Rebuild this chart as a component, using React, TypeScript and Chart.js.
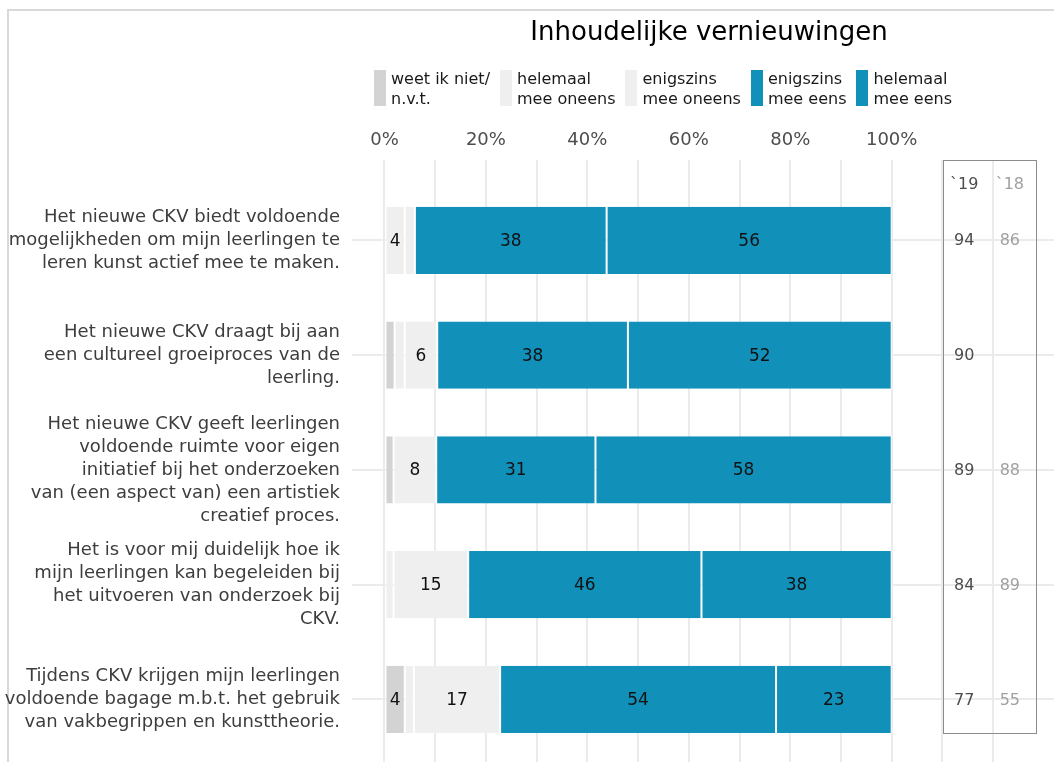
import React, { useEffect, useRef } from 'react';
import { Chart, registerables } from 'chart.js';

Chart.register(...registerables);

// ---------- data ----------
const title = 'Inhoudelijke vernieuwingen';

const statements: string[][] = [
  ['Het nieuwe CKV biedt voldoende', 'mogelijkheden om mijn leerlingen te', 'leren kunst actief mee te maken.'],
  ['Het nieuwe CKV draagt bij aan', 'een cultureel groeiproces van de', 'leerling.'],
  ['Het nieuwe CKV geeft leerlingen', 'voldoende ruimte voor eigen', 'initiatief bij het onderzoeken', 'van (een aspect van) een artistiek', 'creatief proces.'],
  ['Het is voor mij duidelijk hoe ik', 'mijn leerlingen kan begeleiden bij', 'het uitvoeren van onderzoek bij', 'CKV.'],
  ['Tijdens CKV krijgen mijn leerlingen', 'voldoende bagage m.b.t. het gebruik', 'van vakbegrippen en kunsttheorie.'],
];

const seriesNames: string[][] = [
  ['weet ik niet/', 'n.v.t.'],
  ['helemaal', 'mee oneens'],
  ['enigszins', 'mee oneens'],
  ['enigszins', 'mee eens'],
  ['helemaal', 'mee eens'],
];
const seriesColors = ['#d3d3d3', '#efefef', '#efefef', '#1190ba', '#1190ba'];

const weetNiet = [0, 2, 1.8, 0, 4];
const helemaalOneens = [4, 2, 0, 1.8, 1.8];
const enigszinsOneens = [2, 6.4, 8.4, 14.7, 17];
const enigszinsEens = [37.8, 37.6, 31.4, 46, 54.4];
const helemaalEens = [56.2, 52, 58.4, 37.5, 22.8];
const seriesValues = [weetNiet, helemaalOneens, enigszinsOneens, enigszinsEens, helemaalEens];

const yearLabels = ['`19', '`18'];
const score2019: (number | null)[] = [94, 90, 89, 84, 77];
const score2018: (number | null)[] = [86, null, 88, 89, 55];

const gridTicks = [0, 10, 20, 30, 40, 50, 60, 70, 80, 90, 100, 110, 120];
const labelledTicks = [0, 20, 40, 60, 80, 100];

const FONT = '"DejaVu Sans", "Liberation Sans", Arial, sans-serif';

// ---------- plugins ----------
const valueLabels = {
  id: 'valueLabels',
  afterDatasetsDraw(chart: any) {
    const ctx = chart.ctx;
    ctx.save();
    ctx.font = `17px ${FONT}`;
    ctx.fillStyle = '#111';
    ctx.textAlign = 'center';
    ctx.textBaseline = 'middle';
    chart.data.datasets.forEach((ds: any, di: number) => {
      const meta = chart.getDatasetMeta(di);
      meta.data.forEach((el: any, i: number) => {
        const v = ds.data[i].x;
        if (v < 3) return;
        const p = el.getProps(['x', 'base', 'y'], true);
        ctx.fillText(String(Math.round(v)), (p.x + p.base) / 2, p.y + 1);
      });
    });
    ctx.restore();
  },
};

const scorePanel = {
  id: 'scorePanel',
  afterDatasetsDraw(chart: any) {
    const xs = chart.scales.x;
    const ys = chart.scales.y;
    const ctx = chart.ctx;
    const left = Math.round(xs.getPixelForValue(110.1));
    const right = Math.round(xs.getPixelForValue(128.4));
    const top = Math.round(ys.getPixelForValue(-0.7));
    const bottom = Math.round(ys.getPixelForValue(4.29));
    ctx.save();
    ctx.strokeStyle = '#8c8c8c';
    ctx.lineWidth = 1;
    ctx.strokeRect(left + 0.5, top + 0.5, right - left, bottom - top);
    ctx.font = `16px ${FONT}`;
    ctx.textAlign = 'center';
    ctx.textBaseline = 'middle';
    const col19 = xs.getPixelForValue(114.3);
    const col18 = xs.getPixelForValue(123.3);
    const headY = ys.getPixelForValue(-0.48);
    ctx.fillStyle = '#4d4d4d';
    ctx.fillText(yearLabels[0], col19, headY);
    ctx.fillStyle = '#a0a0a0';
    ctx.fillText(yearLabels[1], col18, headY);
    statements.forEach((_, i) => {
      const y = ys.getPixelForValue(i) + 1;
      if (score2019[i] != null) {
        ctx.fillStyle = '#4d4d4d';
        ctx.fillText(String(score2019[i]), col19, y);
      }
      if (score2018[i] != null) {
        ctx.fillStyle = '#a0a0a0';
        ctx.fillText(String(score2018[i]), col18, y);
      }
    });
    ctx.restore();
  },
};

// ---------- component ----------
export default function App() {
  const canvasRef = useRef<HTMLCanvasElement | null>(null);

  useEffect(() => {
    if (!canvasRef.current) return;
    const chart = new Chart(canvasRef.current, {
      type: 'bar',
      data: {
        datasets: seriesValues.map((vals, si) => ({
          label: seriesNames[si].join(' '),
          data: vals.map((v, i) => ({ x: v, y: i })),
          backgroundColor: seriesColors[si],
          borderColor: '#ffffff',
          borderWidth: { left: 1, right: 1, top: 0, bottom: 0 },
          borderSkipped: false,
          barPercentage: 0.585,
          categoryPercentage: 1,
        })) as any,
      },
      options: {
        indexAxis: 'y',
        responsive: false,
        animation: false,
        events: [],
        layout: { padding: 0 },
        plugins: {
          legend: { display: false },
          title: { display: false },
          tooltip: { enabled: false },
        },
        scales: {
          x: {
            type: 'linear',
            position: 'top',
            stacked: true,
            offset: false,
            min: -6.4,
            max: 132,
            afterBuildTicks: (s: any) => {
              s.ticks = gridTicks.map((v) => ({ value: v }));
            },
            afterFit: (s: any) => {
              s.height = 160;
              s.paddingLeft = 0;
              s.paddingRight = 0;
              s.paddingTop = 0;
              s.paddingBottom = 0;
            },
            ticks: {
              autoSkip: false,
              maxRotation: 0,
              padding: 9,
              color: '#4d4d4d',
              font: { family: FONT, size: 18 },
              callback: (v: any) => (labelledTicks.includes(Number(v)) ? `${v}%` : ''),
            },
            grid: { color: '#ebebeb', lineWidth: 2, drawTicks: false, offset: false },
            border: { display: false },
          },
          y: {
            type: 'linear',
            stacked: true,
            reverse: true,
            offset: false,
            min: -0.7,
            max: 4.546,
            afterBuildTicks: (s: any) => {
              s.ticks = statements.map((_, i) => ({ value: i }));
            },
            afterFit: (s: any) => {
              s.width = 352;
              s.paddingLeft = 0;
              s.paddingRight = 0;
              s.paddingTop = 0;
              s.paddingBottom = 0;
            },
            ticks: {
              autoSkip: false,
              padding: 12,
              color: '#3d3d3d',
              font: { family: FONT, size: 18, lineHeight: 23 / 18 },
              callback: (v: any) => statements[Number(v)] ?? '',
            },
            grid: { color: '#ebebeb', lineWidth: 2, drawTicks: false, offset: false },
            border: { display: false },
          },
        },
      } as any,
      plugins: [valueLabels, scorePanel],
    });
    return () => chart.destroy();
  }, []);

  return (
    <div
      style={{
        position: 'fixed',
        left: 0,
        top: 0,
        width: 1054,
        height: 762,
        overflow: 'hidden',
        background: '#ffffff',
        fontFamily: FONT,
      }}
    >
      <div
        style={{
          position: 'absolute',
          left: 7,
          top: 9,
          width: 1100,
          height: 800,
          borderLeft: '2px solid #d9d9d9',
          borderTop: '2px solid #d9d9d9',
        }}
      />
      <canvas
        ref={canvasRef}
        width={1054}
        height={762}
        style={{ position: 'absolute', left: 0, top: 0, width: 1054, height: 762, display: 'block' }}
      />
      <div
        style={{
          position: 'absolute',
          left: 709,
          top: 15,
          transform: 'translateX(-50%)',
          fontSize: 26,
          lineHeight: '32px',
          color: '#000',
          whiteSpace: 'nowrap',
        }}
      >
        {title}
      </div>
      <div
        style={{
          position: 'absolute',
          left: 374,
          top: 69,
          display: 'flex',
          alignItems: 'flex-start',
        }}
      >
        {seriesNames.map((lines, i) => (
          <div key={i} style={{ display: 'flex', alignItems: 'flex-start', marginRight: 10 }}>
            <div style={{ width: 12, height: 36, marginTop: 1, background: seriesColors[i] }} />
            <div
              style={{
                marginLeft: 5,
                fontSize: 16,
                lineHeight: '20px',
                color: '#1a1a1a',
                whiteSpace: 'nowrap',
              }}
            >
              {lines.map((l, j) => (
                <div key={j}>{l}</div>
              ))}
            </div>
          </div>
        ))}
      </div>
    </div>
  );
}
